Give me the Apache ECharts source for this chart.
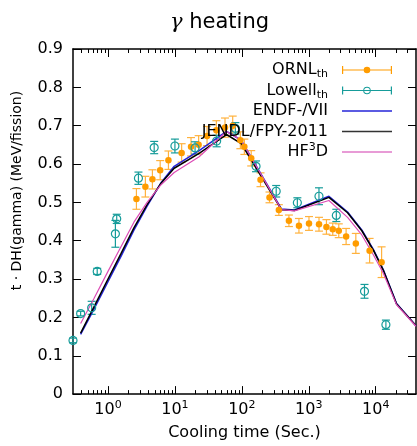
<!DOCTYPE html>
<html>
<head>
<meta charset="utf-8">
<script src="https://cdn.jsdelivr.net/npm/echarts@6/dist/echarts.min.js"></script>
<style>
  html, body { margin: 0; padding: 0; background: #fff; }
  #chart { width: 417px; height: 446px; }
</style>
</head>
<body>
<div id="chart"></div>
<script>
// ORNL_th : time (s), value, half error
var ornlTime = [2.66, 3.62, 4.61, 6.02, 8.0, 12.6, 17.4, 22.6, 30.2, 41.6, 56, 73, 95, 109, 138, 190, 259, 357, 505, 713, 1007, 1422, 1836, 2281, 2806, 3613, 5047, 8105, 12250];
var ornlValue = [0.509, 0.541, 0.560, 0.584, 0.610, 0.629, 0.645, 0.650, 0.673, 0.688, 0.695, 0.700, 0.662, 0.645, 0.615, 0.559, 0.513, 0.480, 0.452, 0.439, 0.445, 0.443, 0.436, 0.430, 0.426, 0.411, 0.393, 0.374, 0.344];
var ornlErr = [0.027, 0.027, 0.025, 0.025, 0.024, 0.024, 0.024, 0.024, 0.025, 0.025, 0.025, 0.025, 0.022, 0.020, 0.020, 0.018, 0.014, 0.014, 0.015, 0.019, 0.018, 0.018, 0.019, 0.016, 0.018, 0.021, 0.026, 0.032, 0.040];

// Lowell_th
var lowellTime = [0.3, 0.39, 0.57, 0.69, 1.29, 1.35, 2.85, 4.9, 10, 20, 42, 80, 163, 326, 675, 1420, 2580, 6800, 14200];
var lowellValue = [0.140, 0.210, 0.225, 0.320, 0.418, 0.457, 0.563, 0.643, 0.647, 0.642, 0.660, 0.693, 0.594, 0.529, 0.499, 0.516, 0.466, 0.268, 0.181];
var lowellErr = [0.006, 0.006, 0.017, 0.008, 0.035, 0.012, 0.016, 0.016, 0.018, 0.016, 0.015, 0.015, 0.014, 0.015, 0.013, 0.022, 0.016, 0.018, 0.012];

// calculations
var modelTime = [0.39, 0.62, 1.0, 1.57, 2.45, 3.84, 6.2, 9.75, 23, 59, 98, 390, 610, 2000, 3800, 6200, 9300, 13000, 20500, 40000];
var endf = [0.156, 0.222, 0.293, 0.360, 0.428, 0.490, 0.551, 0.594, 0.635, 0.685, 0.662, 0.483, 0.480, 0.516, 0.475, 0.428, 0.376, 0.324, 0.236, 0.178];
var jendl = [0.159, 0.228, 0.300, 0.367, 0.434, 0.494, 0.550, 0.589, 0.628, 0.677, 0.653, 0.481, 0.479, 0.513, 0.473, 0.426, 0.374, 0.323, 0.235, 0.178];
var hf3d = [0.184, 0.250, 0.320, 0.385, 0.449, 0.500, 0.546, 0.578, 0.619, 0.685, 0.662, 0.481, 0.478, 0.505, 0.461, 0.415, 0.362, 0.315, 0.233, 0.177];

var majorTicks = [1, 10, 100, 1000, 10000];
var legendText = {
    'ORNL': 'ORNL{sub|th}',
    'Lowell': 'Lowell{sub|th}',
    'ENDF-/VII': 'ENDF-/VII',
    'JENDL/FPY-2011': 'JENDL/FPY-2011',
    'HF3D': 'HF{sup|3}D'
};

var font = 'DejaVu Sans, Verdana, sans-serif';
var orange = '#ff9c00';
var orangeBar = '#ffb23e';
var teal = '#169c9a';
var blue = '#2424d8';
var magenta = '#dc4cb6';

// legend icons: error bar with caps and a filled / open marker, plain line
var barPath = 'M0,3.4h50v1.2h-50z M0,0h1.2v8h-1.2z M48.8,0h1.2v8h-1.2z';
var ornlIcon = 'path://' + barPath + ' M28.3,4A3.3,3.3 0 1,1 21.7,4A3.3,3.3 0 1,1 28.3,4z';
var lowellIcon = 'path://' + barPath + ' M28.8,4A3.8,3.8 0 1,1 21.2,4A3.8,3.8 0 1,1 28.8,4z M27.8,4A2.8,2.8 0 1,0 22.2,4A2.8,2.8 0 1,0 27.8,4z';
var lineIcon = 'path://M0,0h50v1.5h-50z';

var minorTicks = [];
for (var d = 0.1; d <= 10000; d *= 10) {
    for (var k = 2; k <= 9; k++) {
        var v = Math.round(k * d * 100) / 100;
        if (v > 0.3 && v < 40000) minorTicks.push(v);
    }
}

function pairs(xs, ys) {
    return xs.map(function (x, i) { return [x, ys[i]]; });
}
function bars(xs, ys, es) {
    return xs.map(function (x, i) { return [x, ys[i] - es[i], ys[i] + es[i]]; });
}
function barRenderer(color) {
    return function (params, api) {
        var lo = api.coord([api.value(0), api.value(1)]);
        var hi = api.coord([api.value(0), api.value(2)]);
        var w = 4;
        var st = { stroke: color, lineWidth: 1.2 };
        return {
            type: 'group',
            children: [
                { type: 'line', shape: { x1: lo[0], y1: lo[1], x2: hi[0], y2: hi[1] }, style: st },
                { type: 'line', shape: { x1: lo[0] - w, y1: lo[1], x2: lo[0] + w, y2: lo[1] }, style: st },
                { type: 'line', shape: { x1: hi[0] - w, y1: hi[1], x2: hi[0] + w, y2: hi[1] }, style: st }
            ]
        };
    };
}

function xAxisDef(pos, major, labels) {
    var ax = {
        type: 'log',
        min: 0.3,
        max: 40000,
        position: pos,
        axisLine: { show: major, lineStyle: { color: '#000', width: 1.5 } },
        axisTick: {
            inside: true,
            length: major ? 8 : 4,
            customValues: major ? majorTicks : minorTicks,
            lineStyle: { color: '#000', width: 1 }
        },
        axisLabel: { show: false },
        splitLine: { show: false }
    };
    if (labels) {
        ax.axisLabel = {
            show: true,
            customValues: majorTicks,
            margin: 6,
            color: '#000',
            fontFamily: font,
            fontSize: 16,
            lineHeight: 20,
            formatter: function (val) {
                return '10{sup|' + Math.round(Math.log10(val)) + '}';
            },
            rich: {
                sup: { fontSize: 11, lineHeight: 11, verticalAlign: 'top', fontFamily: font, color: '#000' }
            }
        };
        ax.name = 'Cooling time (Sec.)';
        ax.nameLocation = 'middle';
        ax.nameGap = 29;
        ax.nameTextStyle = { color: '#000', fontFamily: font, fontSize: 16 };
    }
    return ax;
}

function yAxisDef(pos, labels) {
    var ax = {
        type: 'value',
        min: 0,
        max: 0.9,
        interval: 0.1,
        position: pos,
        axisLine: { show: true, lineStyle: { color: '#000', width: 1.5 } },
        axisTick: { inside: true, length: 8, lineStyle: { color: '#000', width: 1 } },
        axisLabel: { show: labels, margin: 10, color: '#000', fontFamily: font, fontSize: 16 },
        splitLine: { show: false }
    };
    if (labels) {
        ax.name = '{p|}t · DH(gamma) (MeV/fission)';
        ax.nameLocation = 'middle';
        ax.nameGap = 49;
        ax.nameTextStyle = {
            color: '#000', fontFamily: font, fontSize: 14,
            rich: { p: { width: 62 } }
        };
    }
    return ax;
}

var chart = echarts.init(document.getElementById('chart'), null, { renderer: 'canvas' });
chart.setOption({
    animation: false,
    backgroundColor: '#fff',
    title: {
        text: '{g|γ} heating',
        left: 165,
        top: 7,
        textStyle: {
            color: '#000', fontFamily: font, fontSize: 21, fontWeight: 'normal',
            rich: { g: { fontStyle: 'italic', fontFamily: 'DejaVu Serif, serif', fontSize: 21, color: '#000' } }
        }
    },
    grid: { left: 73, right: 1, top: 49, bottom: 47.5, containLabel: false },
    legend: {
        orient: 'vertical',
        align: 'right',
        right: 20,
        top: 55,
        itemWidth: 50,
        itemHeight: 8,
        itemGap: 0.5,
        selectedMode: false,
        formatter: function (name) { return legendText[name]; },
        textStyle: {
            color: '#000', fontFamily: font, fontSize: 16, lineHeight: 20, padding: [0, 9, 0, 0],
            rich: {
                sub: { fontSize: 11, lineHeight: 11, verticalAlign: 'bottom', fontFamily: font, color: '#000' },
                sup: { fontSize: 11, lineHeight: 11, verticalAlign: 'top', fontFamily: font, color: '#000' }
            }
        },
        data: [
            { name: 'ORNL', icon: ornlIcon, itemStyle: { color: orange, borderWidth: 0 } },
            { name: 'Lowell', icon: lowellIcon, itemStyle: { color: teal, borderWidth: 0 } },
            { name: 'ENDF-/VII', icon: lineIcon, itemStyle: { color: blue, borderWidth: 0 } },
            { name: 'JENDL/FPY-2011', icon: lineIcon, itemStyle: { color: '#333', borderWidth: 0 } },
            { name: 'HF3D', icon: lineIcon, itemStyle: { color: '#e07ac8', borderWidth: 0 } }
        ]
    },
    xAxis: [
        xAxisDef('bottom', true, true),
        xAxisDef('bottom', false, false),
        xAxisDef('top', true, false),
        xAxisDef('top', false, false)
    ],
    yAxis: [
        yAxisDef('left', true),
        yAxisDef('right', false)
    ],
    series: [
        {
            name: 'ORNL bars', type: 'custom', renderItem: barRenderer(orangeBar),
            data: bars(ornlTime, ornlValue, ornlErr), clip: false, silent: true
        },
        {
            name: 'Lowell bars', type: 'custom', renderItem: barRenderer(teal),
            data: bars(lowellTime, lowellValue, lowellErr), clip: false, silent: true
        },
        {
            name: 'ORNL', type: 'line', data: pairs(ornlTime, ornlValue),
            symbol: 'circle', symbolSize: 6.5, showAllSymbol: true,
            lineStyle: { color: orange, opacity: 0 },
            itemStyle: { color: orange },
            clip: false
        },
        {
            name: 'Lowell', type: 'line', data: pairs(lowellTime, lowellValue),
            symbol: 'circle', symbolSize: 8, showAllSymbol: true,
            lineStyle: { color: teal, opacity: 0 },
            itemStyle: { color: 'rgba(255,255,255,0)', borderColor: teal, borderWidth: 1.2 },
            clip: false
        },
        {
            name: 'ENDF-/VII', type: 'line', data: pairs(modelTime, endf), symbol: 'none',
            lineStyle: { color: blue, width: 1.5 }, itemStyle: { color: blue }
        },
        {
            name: 'JENDL/FPY-2011', type: 'line', data: pairs(modelTime, jendl), symbol: 'none',
            lineStyle: { color: '#000', width: 1.5 }, itemStyle: { color: '#000' }
        },
        {
            name: 'HF3D', type: 'line', data: pairs(modelTime, hf3d), symbol: 'none',
            lineStyle: { color: magenta, width: 1.2 }, itemStyle: { color: magenta }
        }
    ]
});
</script>
</body>
</html>
